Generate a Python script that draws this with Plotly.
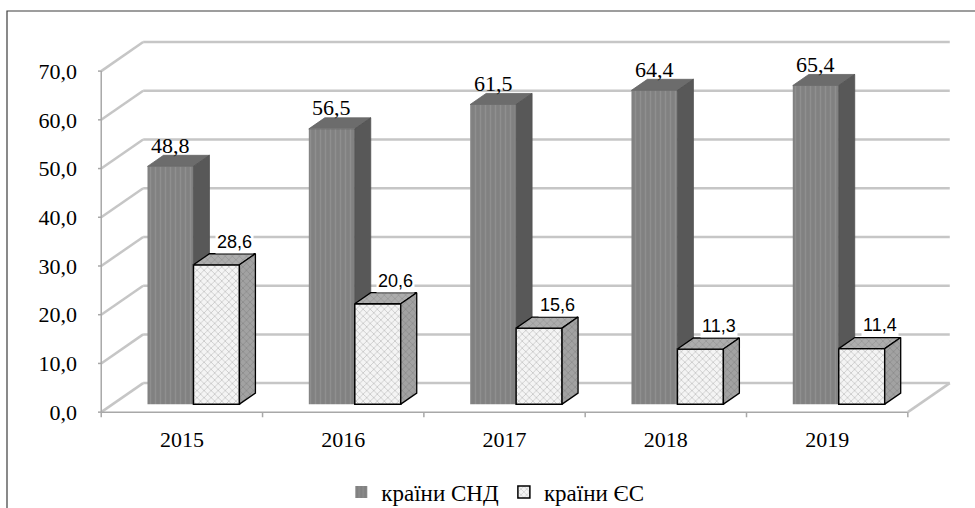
import plotly.graph_objects as go

# ---- data ----
years = ["2015", "2016", "2017", "2018", "2019"]
cis_values = [48.8, 56.5, 61.5, 64.4, 65.4]
eu_values = [28.6, 20.6, 15.6, 11.3, 11.4]
cis_name = "країни СНД"
eu_name = "країни ЄС"
y_ticks = [0, 10, 20, 30, 40, 50, 60, 70]

# ---- 3D projection geometry (axis units) ----
DX = 0.26      # depth offset along x (category units)
DY = 5.96      # depth offset along y (value units)
F0 = 0.276     # front of bars (fraction of depth)
F1 = 0.657     # back of bars
BW = 0.285     # bar width (category units)
SX = (F1 - F0) * DX
SY = (F1 - F0) * DY
BASE = F0 * DY
XMIN, XMAX = -0.5, len(years) - 0.5

SERIF = "Liberation Serif, Times New Roman, serif"
SANS = "Liberation Sans, Arial, sans-serif"

idx = list(range(len(years)))
cis_x0 = [i + F0 * DX - BW for i in idx]
cis_x1 = [i + F0 * DX for i in idx]
eu_x0 = cis_x1
eu_x1 = [i + F0 * DX + BW for i in idx]


def poly(pts_list):
    xs, ys = [], []
    for pts in pts_list:
        for (px, py) in pts:
            xs.append(px)
            ys.append(py)
        xs.append(pts[0][0]); ys.append(pts[0][1])
        xs.append(None); ys.append(None)
    return xs, ys


fig = go.Figure()

# front faces as bars
fig.add_trace(go.Bar(
    x=[(a + b) / 2 for a, b in zip(cis_x0, cis_x1)], y=cis_values, base=BASE, width=BW,
    name=cis_name,
    marker=dict(color="#858585", line=dict(width=0),
                pattern=dict(shape="|", fillmode="replace", bgcolor="#818181",
                             fgcolor="#8f8f8f", size=5, solidity=0.3)),
    hoverinfo="skip",
))
fig.add_trace(go.Bar(
    x=[(a + b) / 2 for a, b in zip(eu_x0, eu_x1)], y=eu_values, base=BASE, width=BW,
    name=eu_name,
    marker=dict(color="#f2f2f2", line=dict(width=1.5, color="#000000"),
                pattern=dict(shape="x", fillmode="replace", bgcolor="#f4f4f4",
                             fgcolor="#c8c8c8", size=5, solidity=0.3)),
    hoverinfo="skip",
))

# CIS top and side faces
tops = []
sides = []
for x0, x1, v, e in zip(cis_x0, cis_x1, cis_values, eu_values):
    t = BASE + v
    tops.append([(x0, t), (x1, t), (x1 + SX, t + SY), (x0 + SX, t + SY)])
    te = BASE + e
    sides.append([(x1, te), (x1, t), (x1 + SX, t + SY), (x1 + SX, te + SY)])
xs, ys = poly(tops)
fig.add_trace(go.Scatter(x=xs, y=ys, mode="lines", fill="toself", fillcolor="#6c6c6c",
                         line=dict(color="#646464", width=0.8), showlegend=False, hoverinfo="skip"))
xs, ys = poly(sides)
fig.add_trace(go.Scatter(x=xs, y=ys, mode="lines", fill="toself", fillcolor="#585858",
                         line=dict(color="#525252", width=0.8), showlegend=False, hoverinfo="skip"))

# EU top and side faces
tops = []
sides = []
for x0, x1, v in zip(eu_x0, eu_x1, eu_values):
    t = BASE + v
    tops.append([(x0, t), (x1, t), (x1 + SX, t + SY), (x0 + SX, t + SY)])
    sides.append([(x1, BASE), (x1, t), (x1 + SX, t + SY), (x1 + SX, BASE + SY)])
xs, ys = poly(tops)
fig.add_trace(go.Scatter(x=xs, y=ys, mode="lines", fill="toself", fillcolor="#a9a9a9",
                         fillpattern=dict(shape="x", fillmode="replace", bgcolor="#adadad",
                                          fgcolor="#989898", size=5, solidity=0.3),
                         line=dict(color="#000000", width=1.3), showlegend=False, hoverinfo="skip"))
xs, ys = poly(sides)
fig.add_trace(go.Scatter(x=xs, y=ys, mode="lines", fill="toself", fillcolor="#9c9c9c",
                         fillpattern=dict(shape="x", fillmode="replace", bgcolor="#a2a2a2",
                                          fgcolor="#8c8c8c", size=5, solidity=0.3),
                         line=dict(color="#000000", width=1.3), showlegend=False, hoverinfo="skip"))

# ---- walls / grid (shapes below traces) ----
shapes = []
GRID = dict(color="#c6c6c6", width=2.5)
AX = dict(color="#a8a8a8", width=1.5)
for v in y_ticks:
    shapes.append(dict(type="line", xref="x", yref="y", layer="below",
                       x0=XMIN + DX, x1=XMAX + DX, y0=v + DY, y1=v + DY, line=GRID))
    shapes.append(dict(type="line", xref="x", yref="y", layer="below",
                       x0=XMIN, x1=XMIN + DX, y0=v, y1=v + DY, line=GRID))
    shapes.append(dict(type="line", xref="x", yref="y", layer="below",
                       x0=XMIN - 0.032, x1=XMIN, y0=v, y1=v, line=AX))
shapes.append(dict(type="line", xref="x", yref="y", layer="below",
                   x0=XMIN, x1=XMIN, y0=0, y1=max(y_ticks), line=AX))
shapes.append(dict(type="line", xref="x", yref="y", layer="below",
                   x0=XMIN, x1=XMAX, y0=0, y1=0, line=AX))
shapes.append(dict(type="line", xref="x", yref="y", layer="below",
                   x0=XMAX, x1=XMAX + DX, y0=0, y1=DY, line=GRID))
for k in range(len(years) + 1):
    xb = XMIN + k
    shapes.append(dict(type="line", xref="x", yref="y", layer="below",
                       x0=xb, x1=xb, y0=0, y1=-1.05, line=AX))
# chart border
shapes.append(dict(type="rect", xref="paper", yref="paper",
                   x0=(7 - 98) / 855, x1=1.1, y0=-0.3, y1=(418 - 11) / 381,
                   line=dict(color="#3c3c3c", width=1.2), layer="below"))

# ---- data labels ----
annotations = []
for x0, x1, v in zip(cis_x0, cis_x1, cis_values):
    annotations.append(dict(x=(x0 + x1) / 2, y=BASE + v + SY + 2.1, xref="x", yref="y",
                            text=f"{v:.1f}".replace(".", ","), showarrow=False,
                            font=dict(family=SERIF, size=22, color="#000000")))
for x0, x1, v in zip(eu_x0, eu_x1, eu_values):
    annotations.append(dict(x=x1 - 0.03, y=BASE + v + SY + 2.5, xref="x", yref="y",
                            text=f"{v:.1f}".replace(".", ","), showarrow=False,
                            bgcolor="#ffffff", borderpad=1,
                            font=dict(family=SANS, size=18, color="#000000")))

fig.update_layout(
    width=975, height=508,
    margin=dict(l=98, r=22, t=37, b=90, autoexpand=False),
    paper_bgcolor="#ffffff", plot_bgcolor="#ffffff",
    barmode="overlay",
    separators=", ",
    shapes=shapes,
    annotations=annotations,
    font=dict(family=SERIF, size=22, color="#000000"),
    legend=dict(orientation="h", xref="container", yref="container",
                x=0.508, y=1 - 492 / 508, xanchor="center", yanchor="middle",
                font=dict(family=SERIF, size=23, color="#000000"),
                itemwidth=30, tracegroupgap=0, bgcolor="rgba(0,0,0,0)"),
    xaxis=dict(range=[XMIN - 0.02, XMAX + DX + 0.02], tickvals=idx, ticktext=years,
               showgrid=False, zeroline=False, showline=False, ticks="", automargin=False,
               ticklabelstandoff=6, tickfont=dict(family=SERIF, size=22)),
    yaxis=dict(range=[-1.2, 77], tickvals=y_ticks, tickformat=".1f", automargin=False,
               showgrid=False, zeroline=False, showline=False, ticks="",
               ticklabelstandoff=20, tickfont=dict(family=SERIF, size=22)),
)

fig.write_html("out.html", config={"displayModeBar": False},
               post_script="document.body.style.margin='0';document.body.style.overflow='hidden';")
